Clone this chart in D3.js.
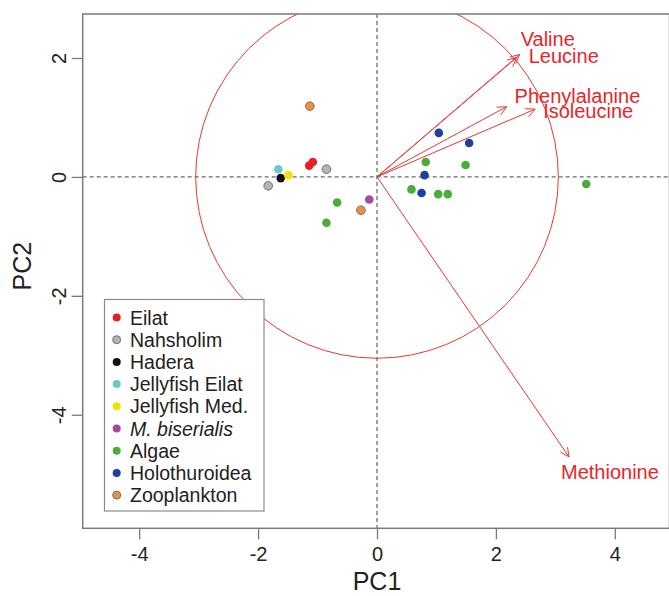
<!DOCTYPE html>
<html>
<head>
<meta charset="utf-8">
<script src="https://cdn.jsdelivr.net/npm/d3@7"></script>
<style>
  html, body { margin: 0; padding: 0; background: #fff; }
  svg { display: block; font-family: Arial, "Liberation Sans", sans-serif; }
</style>
</head>
<body>
<svg id="chart" width="669" height="596"></svg>
<script>
// ---- data ----
const groups = ["Eilat", "Nahsholim", "Hadera", "Jellyfish Eilat", "Jellyfish Med.", "M. biserialis", "Algae", "Holothuroidea", "Zooplankton"];
const groupColors = ["#e8201f", "#b5b5b5", "#111111", "#6ccaca", "#f2e400", "#a24c9f", "#4aad3a", "#1f3f9c", "#f0913a"];
const pointGroup = ["Eilat","Eilat","Nahsholim","Nahsholim","Hadera","Jellyfish Eilat","Jellyfish Med.","M. biserialis",
  "Algae","Algae","Algae","Algae","Algae","Algae","Algae","Algae",
  "Holothuroidea","Holothuroidea","Holothuroidea","Holothuroidea","Zooplankton","Zooplankton"];
const pc1 = [-1.14,-1.08,-0.85,-1.83,-1.62,-1.66,-1.49,-0.13,
  -0.67,-0.85,0.58,0.82,1.49,1.03,1.19,3.52,
  1.04,1.55,0.80,0.75,-1.13,-0.27];
const pc2 = [0.19,0.25,0.13,-0.15,-0.02,0.13,0.03,-0.38,
  -0.43,-0.77,-0.21,0.25,0.20,-0.29,-0.29,-0.12,
  0.74,0.57,0.03,-0.27,1.19,-0.56];
const variables = ["Valine", "Leucine", "Phenylalanine", "Isoleucine", "Methionine"];
const load1 = [2.40, 2.35, 2.18, 2.66, 3.23];
const load2 = [2.06, 2.01, 1.18, 1.14, -4.71];
const circleRadius = 3.05;
const xTicks = [-4, -2, 0, 2, 4];
const yTicks = [-4, -2, 0, 2];

// ---- layout ----
const svg = d3.select("#chart");
const pL = 82.7, pR = 669.5, pT = 14, pB = 528.3;
const x = d3.scaleLinear().domain([-4.95, 4.92]).range([pL, pR]);
const y = d3.scaleLinear().domain([-5.91, 2.74]).range([pB, pT]);
const red = "#e23a33";
const fmt = d => String(d);

svg.append("clipPath").attr("id", "clip").append("rect")
  .attr("x", pL).attr("y", pT).attr("width", pR - pL).attr("height", pB - pT);

const plot = svg.append("g").attr("clip-path", "url(#clip)");

// dashed zero lines
plot.append("line").attr("x1", pL).attr("x2", pR).attr("y1", y(0)).attr("y2", y(0))
  .attr("stroke", "#444").attr("stroke-width", 1).attr("stroke-dasharray", "4,3");
plot.append("line").attr("x1", x(0)).attr("x2", x(0)).attr("y1", pT).attr("y2", pB)
  .attr("stroke", "#444").attr("stroke-width", 1).attr("stroke-dasharray", "4,3");

// circle
plot.append("ellipse").attr("cx", x(0)).attr("cy", y(0))
  .attr("rx", x(circleRadius) - x(0)).attr("ry", y(0) - y(circleRadius))
  .attr("fill", "none").attr("stroke", red).attr("stroke-width", 1);

// arrows
const arrowData = variables.map((v, i) => ({ name: v, x: load1[i], y: load2[i] }));
const arrowG = plot.append("g");
arrowData.forEach(d => {
  const x0 = x(0), y0 = y(0), x1 = x(d.x), y1 = y(d.y);
  const ang = Math.atan2(y1 - y0, x1 - x0);
  const L = 10, a = Math.PI / 7;
  const p1 = [x1 - L * Math.cos(ang - a), y1 - L * Math.sin(ang - a)];
  const p2 = [x1 - L * Math.cos(ang + a), y1 - L * Math.sin(ang + a)];
  arrowG.append("line").attr("x1", x0).attr("y1", y0).attr("x2", x1).attr("y2", y1)
    .attr("stroke", red).attr("stroke-width", 1);
  arrowG.append("path").attr("d", `M${p1[0]},${p1[1]}L${x1},${y1}L${p2[0]},${p2[1]}`)
    .attr("fill", "none").attr("stroke", red).attr("stroke-width", 1);
});

// arrow labels (offsets from arrow tips, in px)
const labelOffset = {
  "Valine": [1, -8], "Leucine": [12, 6], "Phenylalanine": [8, -4],
  "Isoleucine": [8, 9], "Methionine": [-8, 22]
};
arrowData.forEach(d => {
  const o = labelOffset[d.name];
  svg.append("text").attr("x", x(d.x) + o[0]).attr("y", y(d.y) + o[1])
    .attr("fill", "#e8262a").attr("font-size", 20).text(d.name);
});

// points
const colorOf = d3.scaleOrdinal().domain(groups).range(groupColors);
const pts = pc1.map((v, i) => ({ x: v, y: pc2[i], g: pointGroup[i] }));
plot.selectAll("circle.pt").data(pts).join("circle").attr("class", "pt")
  .attr("cx", d => x(d.x)).attr("cy", d => y(d.y)).attr("r", 4.3)
  .attr("fill", d => colorOf(d.g))
  .attr("stroke", d => (d.g === "Nahsholim" || d.g === "Zooplankton") ? "#6e6e6e" : "none")
  .attr("stroke-width", 1);

// box
svg.append("rect").attr("x", pL).attr("y", pT).attr("width", pR - pL).attr("height", pB - pT)
  .attr("fill", "none").attr("stroke", "#7a7a7a").attr("stroke-width", 1.5);

// axes
const xAxis = svg.append("g").attr("transform", `translate(0,${pB})`)
  .call(d3.axisBottom(x).tickValues(xTicks).tickSize(11).tickPadding(8).tickFormat(fmt));
xAxis.select(".domain").remove();
xAxis.selectAll("line").attr("stroke", "#7a7a7a").attr("stroke-width", 1.3);
xAxis.selectAll("text").attr("font-size", 20).attr("fill", "#222").attr("font-family", "Arial, 'Liberation Sans', sans-serif");

const yAxis = svg.append("g").attr("transform", `translate(${pL},0)`)
  .call(d3.axisLeft(y).tickValues(yTicks).tickSize(11).tickFormat(fmt));
yAxis.select(".domain").remove();
yAxis.selectAll("line").attr("stroke", "#7a7a7a").attr("stroke-width", 1.3);
yAxis.selectAll("text").attr("font-size", 20).attr("fill", "#222")
  .attr("font-family", "Arial, 'Liberation Sans', sans-serif")
  .attr("x", null).attr("dy", null)
  .attr("text-anchor", "middle")
  .attr("transform", "translate(-24,0) rotate(-90)")
  .attr("y", 0).attr("dy", "0.35em");

// axis titles
svg.append("text").attr("x", x(0)).attr("y", 590).attr("text-anchor", "middle")
  .attr("font-size", 25).attr("fill", "#222").text("PC1");
svg.append("text").attr("transform", `translate(31,${y(-1.5)}) rotate(-90)`).attr("text-anchor", "middle")
  .attr("font-size", 25).attr("fill", "#222").text("PC2");

// legend
const lg = svg.append("g");
lg.append("rect").attr("x", 104.5).attr("y", 299.5).attr("width", 159.5).attr("height", 211.5)
  .attr("fill", "#fff").attr("stroke", "#8a8a8a").attr("stroke-width", 1.2);
groups.forEach((g, i) => {
  const cy = 317.5 + i * 22.2;
  lg.append("circle").attr("cx", 116.7).attr("cy", cy).attr("r", 4)
    .attr("fill", groupColors[i])
    .attr("stroke", (g === "Nahsholim" || g === "Zooplankton") ? "#6e6e6e" : "none");
  lg.append("text").attr("x", 130).attr("y", cy).attr("dy", "0.36em")
    .attr("font-size", 19.5).attr("fill", "#222")
    .attr("font-style", g === "M. biserialis" ? "italic" : "normal")
    .text(g);
});
</script>
</body>
</html>
